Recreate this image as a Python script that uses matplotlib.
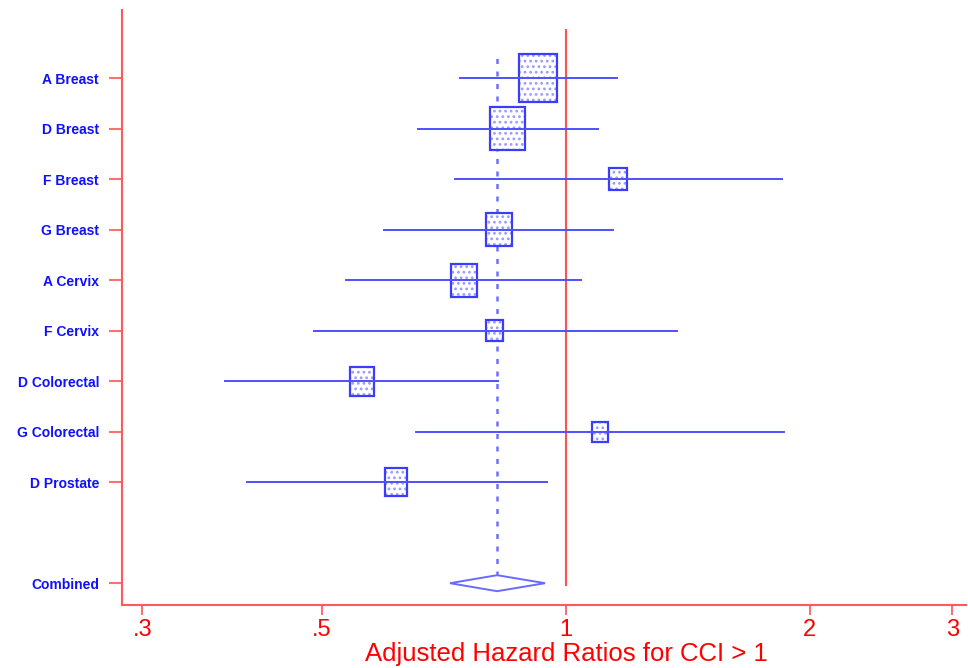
import matplotlib.pyplot as plt
from matplotlib.patches import Rectangle, Polygon
import numpy as np

# study rows, top to bottom
labels = ['A Breast', 'D Breast', 'F Breast', 'G Breast', 'A Cervix',
          'F Cervix', 'D Colorectal', 'G Colorectal', 'D Prostate']
hr = [0.923, 0.846, 1.159, 0.827, 0.748, 0.817, 0.560, 1.101, 0.617]
lo = [0.740, 0.657, 0.730, 0.596, 0.535, 0.489, 0.379, 0.653, 0.404]
hi = [1.156, 1.095, 1.848, 1.143, 1.044, 1.371, 0.824, 1.858, 0.947]
weight = [24.8, 19.9, 5.2, 11.7, 11.7, 4.8, 9.1, 4.3, 8.4]

comb_label = 'Combined'
comb_hr, comb_lo, comb_hi = 0.822, 0.719, 0.942

xticks = [0.3, 0.5, 1, 2, 3]
xticklabels = ['.3', '.5', '1', '2', '3']

blue = '#3c3cff'

plt.rcParams['font.family'] = ['Liberation Sans', 'DejaVu Sans']
plt.rcParams['hatch.linewidth'] = 1.2

fig = plt.figure(figsize=(9.68, 6.68), dpi=100)
ax = fig.add_axes([0.126, 0.094, 0.872, 0.891])
ax.set_xscale('log')
ax.set_xlim(0.283, 3.118)
ax.set_ylim(-0.436, 11.35)

ypos = np.arange(len(labels) + 1, 1, -1)

# pixels per unit, used to size boxes
px_dec = 810.0
px_row = 50.5

# null line and overall estimate line
ax.plot([1, 1], [-0.04, 10.95], color='#ff5050', lw=1.5, zorder=1)
ax.plot([comb_hr, comb_hr], [0.15, 10.4], color='#7070ff', lw=1.8,
        ls=(0, (2, 3)), zorder=1)

for y, h, l, u, w in zip(ypos, hr, lo, hi, weight):
    side = 9.7 * np.sqrt(w)
    hh = side / 2 / px_row
    hw = side * 0.8 / 2 / px_dec
    x0 = h * 10 ** (-hw)
    x1 = h * 10 ** (hw)
    ax.add_patch(Rectangle((x0, y - hh), x1 - x0, 2 * hh, facecolor='white',
                           edgecolor='#9a9aff', hatch='...', lw=0, zorder=2))
    ax.add_patch(Rectangle((x0, y - hh), x1 - x0, 2 * hh, facecolor='none',
                           edgecolor=blue, lw=1.6, zorder=3))
    ax.plot([l, u], [y, y], color='#5050ff', lw=1.4, zorder=4)

dh = 8 / px_row
ax.add_patch(Polygon([(comb_lo, 0), (comb_hr, dh), (comb_hi, 0), (comb_hr, -dh)],
                     closed=True, facecolor='white', edgecolor='#6a6aff',
                     lw=1.4, zorder=3))

ax.set_yticks(list(ypos) + [0])
ax.set_yticklabels(labels + [comb_label], color='#1010ff', fontsize=10,
                   fontweight='bold')
ax.set_xticks(xticks)
ax.set_xticklabels(xticklabels, color='#ff0000', fontsize=17)
ax.minorticks_off()
ax.tick_params(axis='y', length=9.5, width=1.5, color='#ff7070', pad=7)
ax.tick_params(axis='x', length=7, width=1.3, color='#ff6060', pad=3)

for s in ['top', 'right']:
    ax.spines[s].set_visible(False)
for s in ['left', 'bottom']:
    ax.spines[s].set_color('#ff5a5a')
    ax.spines[s].set_linewidth(1.5)

ax.set_xlabel('Adjusted Hazard Ratios for CCI > 1', color='#ff0000', fontsize=18.5)
ax.xaxis.set_label_coords(0.526, -0.062)

fig.savefig('out.png', dpi=100)
